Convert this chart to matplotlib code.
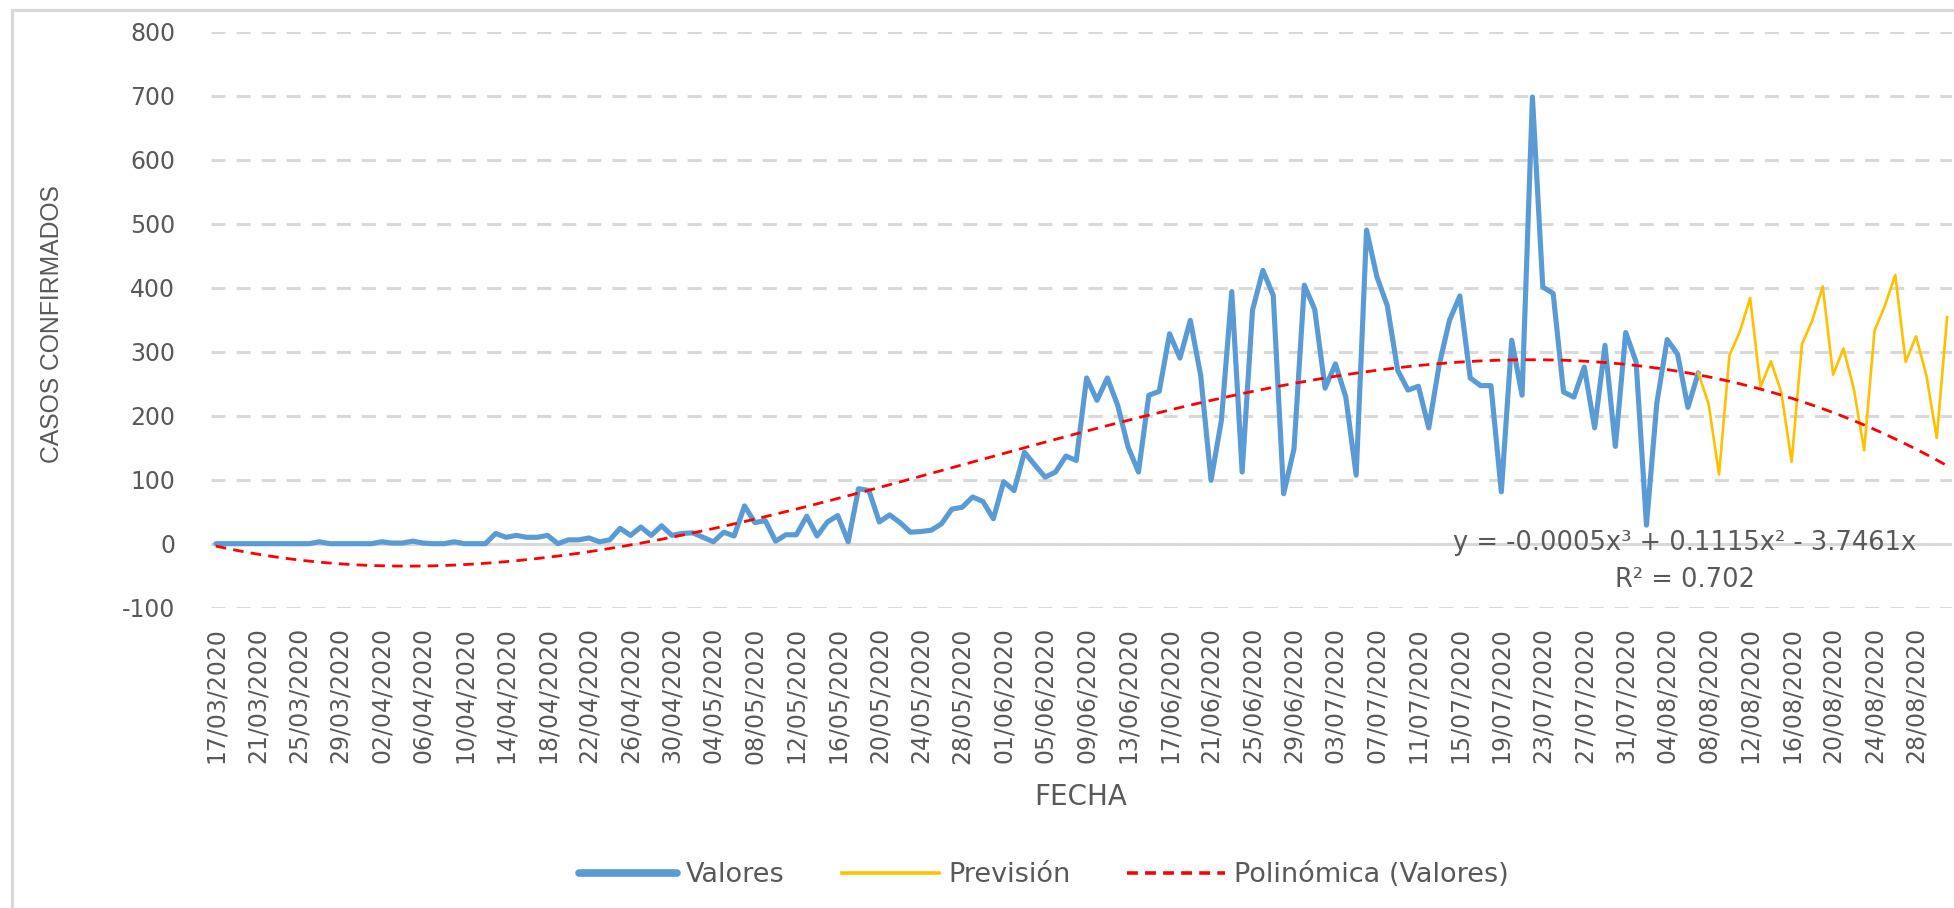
import numpy as np
import pandas as pd
import matplotlib
matplotlib.use("Agg")
import matplotlib.pyplot as plt
from matplotlib.patches import Rectangle
from matplotlib.lines import Line2D

plt.rcParams["axes.unicode_minus"] = False

# ---------------- data ----------------
fechas = pd.date_range("2020-03-17", "2020-08-31", freq="D").strftime("%d/%m/%Y").tolist()

valores = [0, 0, 0, 0, 0, 0, 0, 0, 0, 0,
           3, 0, 0, 0, 0, 0, 3, 1, 1, 4,
           1, 0, 0, 3, 0, 0, 0,
           16, 10, 13, 10, 10, 13, 0, 6, 6, 9, 3, 6, 24, 13, 26, 13, 28, 13,
           16, 17, 10, 3, 18, 12, 59, 33, 36, 4,
           14, 14, 43, 12, 34, 44, 3, 86, 83, 34,
           45, 33, 18, 19, 21, 31, 54, 57, 73, 66,
           39, 97, 83, 143, 123, 104, 112, 137, 130,
           259, 224, 259, 216, 151, 112, 232, 238, 328, 290,
           349, 263, 99, 193, 394, 112, 365, 427, 388, 78,
           148, 404, 366, 243, 281, 229, 107, 490, 417, 372,
           271, 240, 246, 181, 279, 349, 387, 259, 247, 247,
           81, 318, 232, 698, 401, 391, 237, 229, 276, 181,
           310, 152, 330, 284, 29, 220, 319, 296, 213, 267]

# forecast starts on the last observed day (07/08/2020)
prevision = [267, 218, 108, 294, 331, 384, 245, 285, 237, 128,
             312, 349, 402, 264, 305, 242, 146, 333, 372, 420,
             284, 324, 263, 165, 354]

ecuacion = "y = -0.0005x\u00b3 + 0.1115x\u00b2 - 3.7461x"
r2_texto = "R\u00b2 = 0.702"

assert len(fechas) == 168 and len(valores) == 144 and len(prevision) == 25

# ---------------- styling ----------------
W, H = 1954, 908
TXT = "#595959"
GRID = "#d9d9d9"
BLUE = "#5B9BD5"
YELLOW = "#FFC000"
RED = "#FF0000"

fig = plt.figure(figsize=(W / 100, H / 100), dpi=100)
fig.patch.set_facecolor("white")

ax_l, ax_r = 210.6, 1952.3
ax_top, ax_bot = 31.7, 607.7
ax = fig.add_axes([ax_l / W, 1 - ax_bot / H, (ax_r - ax_l) / W, (ax_bot - ax_top) / H])

x_val = np.arange(len(valores))
x_prev = np.arange(len(valores) - 1, len(valores) - 1 + len(prevision))
x_all = np.arange(len(fechas))

# polynomial trendline (order 3, intercept forced to 0) fitted on the observed values
xf = x_val + 1.0
A = np.column_stack([xf, xf ** 2, xf ** 3])
coef, *_ = np.linalg.lstsq(A, np.array(valores, dtype=float), rcond=None)
xt = x_all + 1.0
trend = coef[0] * xt + coef[1] * xt ** 2 + coef[2] * xt ** 3

ax.plot(x_val, valores, color=BLUE, lw=3.7, solid_joinstyle="round",
        solid_capstyle="round", zorder=3)
ax.plot(x_prev, prevision, color=YELLOW, lw=1.9, solid_joinstyle="round", zorder=3)
ax.plot(x_all, trend, color=RED, lw=2.0, linestyle=(0, (3.8, 2.6)), zorder=4)

ax.set_xlim(-0.5, len(fechas) - 0.5)
ax.set_ylim(-100, 800)
ax.set_yticks(range(-100, 801, 100))
ax.set_xticks(x_all[::4])
ax.set_xticklabels(fechas[::4], rotation=90)

ax.yaxis.grid(True, color=GRID, lw=2.2, linestyle=(0, (4.6, 3.6)), zorder=0)
ax.axhline(0, color=GRID, lw=2.2, zorder=1)
ax.set_axisbelow(True)
for s in ax.spines.values():
    s.set_visible(False)

ax.tick_params(axis="both", length=0, colors=TXT, labelsize=17)
ax.tick_params(axis="y", pad=25.5)
ax.tick_params(axis="x", pad=14)
for lab in ax.get_xticklabels() + ax.get_yticklabels():
    lab.set_family("DejaVu Sans")

# axis titles
fig.text(52 / W, 1 - 324 / H, "CASOS CONFIRMADOS", rotation=90, ha="center", va="center",
         color=TXT, fontsize=17.8, family=["Liberation Sans", "DejaVu Sans"])
fig.text(1081 / W, 1 - 797 / H, "FECHA", ha="center", va="center",
         color=TXT, fontsize=20, family="DejaVu Sans")

# trendline equation
fig.text(1685 / W, 1 - 543 / H, ecuacion, ha="center", va="center", color=TXT,
         fontsize=18.5, family="DejaVu Sans")
fig.text(1685 / W, 1 - 580 / H, r2_texto, ha="center", va="center", color=TXT,
         fontsize=18.5, family="DejaVu Sans")

# legend
handles = [Line2D([], [], color=BLUE, lw=5.5, solid_capstyle="round"),
           Line2D([], [], color=YELLOW, lw=2.6),
           Line2D([], [], color=RED, lw=2.6, linestyle=(0, (3.0, 2.0)))]
leg = fig.legend(handles, ["Valores", "Previsi\u00f3n", "Polin\u00f3mica (Valores)"],
                 loc="center", bbox_to_anchor=(1044 / W, 1 - 875 / H), ncol=3,
                 frameon=False, handlelength=3.6, handletextpad=0.34,
                 columnspacing=2.1, borderpad=0,
                 prop={"family": "DejaVu Sans", "size": 19.5})
for t in leg.get_texts():
    t.set_color(TXT)

# chart-area border (only left and top visible in the crop)
fig.patches.append(Rectangle((12 / W, -0.1), 2.0, (1 - 10 / H) + 0.1,
                             transform=fig.transFigure, fill=False,
                             ec=GRID, lw=2.2))

fig.savefig("out.png", dpi=100)
